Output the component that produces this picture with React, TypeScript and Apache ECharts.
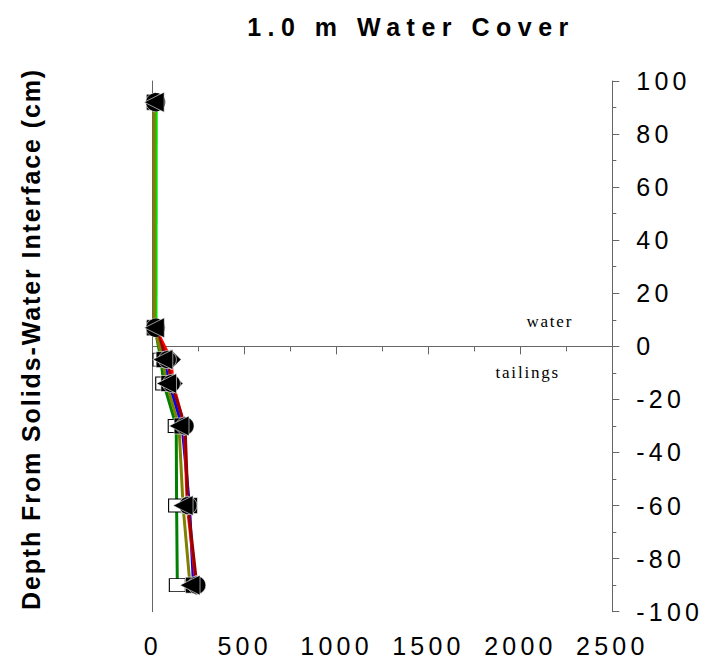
import React, { useEffect, useRef } from "react";
import * as echarts from "echarts";

// Depths (cm) relative to the solids-water interface
const depths = [92, 7, -5, -14, -30, -60, -90];

// Concentration profiles, one per sampling event
const seriesNames = ["Profile A", "Profile B", "Profile C", "Profile D", "Profile E", "Profile F"];
const profileA = [12, 12, 45, 60, 128, 130, 134];
const profileB = [8, 9, 55, 75, 143, 165, 203];
const profileC = [10, 10, 62, 88, 160, 200, 222];
const profileD = [11, 12, 80, 102, 176, 192, 240];
const profileE = [13, 14, 100, 110, 172, 188, 236];
const profileF = [19, 18];

const xTicks = { min: 0, max: 2500, interval: 500 };
const yTicks = { min: -100, max: 100, interval: 20 };

const SANS = "'Liberation Sans', Arial, sans-serif";
const SERIF = "'Liberation Serif', 'Times New Roman', serif";

function toPairs(values: number[]) {
  return values.map((v, i) => [v, depths[i]]);
}

// Spread glyphs of the drawn SVG texts, keyed by their content
function spaceTexts(root: HTMLElement) {
  root.querySelectorAll("text").forEach((t) => {
    const s = (t.textContent || "").trim();
    let ls = 0;
    if (s.includes("Water Cover")) ls = 6.5;
    else if (s.startsWith("Depth")) ls = 1.9;
    else if (/^-?\d+$/.test(s)) ls = 4.2;
    else if (s === "water" || s === "tailings") ls = 1.8;
    (t as SVGTextElement).style.letterSpacing = ls + "px";
  });
}

export default function App() {
  const ref = useRef<HTMLDivElement>(null);

  useEffect(() => {
    if (!ref.current) return;
    document.body.style.margin = "0";
    const chart = echarts.init(ref.current, null, { renderer: "svg" });

    const mk = (
      name: string,
      values: number[],
      color: string,
      symbol: string,
      symbolSize: number | number[],
      itemStyle: any,
      extra: any = {}
    ) => ({
      name,
      type: "line",
      data: toPairs(values),
      lineStyle: { color, width: 3 },
      symbol,
      symbolSize,
      itemStyle,
      z: 3,
      ...extra,
    });

    const black = { color: "#000", borderColor: "#fff", borderWidth: 0.6 };
    const axisColor = "#666";

    chart.setOption({
      animation: false,
      grid: { left: 152.7, right: 100.7, top: 81, bottom: 51.3, containLabel: false },
      xAxis: {
        type: "value",
        min: xTicks.min,
        max: xTicks.max,
        interval: xTicks.interval,
        axisLine: { show: true, lineStyle: { color: axisColor, width: 1 } },
        axisTick: { show: true, inside: false, length: 8, lineStyle: { color: axisColor } },
        minorTick: { show: true, splitNumber: 2, length: 5, lineStyle: { color: axisColor } },
        splitLine: { show: false },
        axisLabel: {
          color: "#000",
          fontFamily: SANS,
          fontSize: 25,
          margin: 22,
          formatter: (v: number) => String(v),
        },
      },
      yAxis: [
        {
          type: "value",
          position: "right",
          min: yTicks.min,
          max: yTicks.max,
          interval: yTicks.interval,
          axisLine: { show: true, onZero: false, lineStyle: { color: axisColor, width: 1 } },
          axisTick: { show: true, inside: false, length: 7, lineStyle: { color: axisColor } },
          minorTick: { show: true, splitNumber: 2, length: 4, lineStyle: { color: axisColor } },
          splitLine: { show: false },
          axisLabel: {
            color: "#000",
            fontFamily: SANS,
            fontSize: 25,
            margin: 24,
            formatter: (v: number) => String(v),
          },
        },
        {
          type: "value",
          position: "left",
          min: yTicks.min,
          max: yTicks.max,
          interval: yTicks.interval,
          axisLine: { show: true, onZero: false, lineStyle: { color: axisColor, width: 1 } },
          axisTick: { show: false },
          axisLabel: { show: false },
          splitLine: { show: false },
        },
      ],
      series: [
        mk(seriesNames[0], profileA, "#008000", "rect", [16, 13], {
          color: "#fff",
          borderColor: "#000",
          borderWidth: 1,
        }, {
          markLine: {
            silent: true,
            symbol: "none",
            label: { show: false },
            lineStyle: { color: axisColor, width: 1, type: "solid" },
            data: [{ yAxis: 0 }],
            z: 1,
          },
        }),
        mk(seriesNames[2], profileC, "#0000ff", "rect", 16, black),
        mk(seriesNames[4], profileE, "#ff0000", "diamond", 20, black),
        mk(seriesNames[3], profileD, "#990000", "circle", 18, black),
        mk(seriesNames[5], profileF, "#00e000", "circle", 17, {
          color: "rgba(255,255,255,0)",
          borderColor: "#000",
          borderWidth: 1.2,
        }),
        mk(seriesNames[1], profileB, "#808000", "triangle", 20, black, { symbolRotate: 90 }),
      ],
    });

    const [wx, wy] = chart.convertToPixel({ xAxisIndex: 0, yAxisIndex: 0 }, [2160, 9.5]);
    const [tx, ty] = chart.convertToPixel({ xAxisIndex: 0, yAxisIndex: 0 }, [2040, -10]);

    chart.setOption({
      graphic: [
        {
          type: "text",
          x: 411,
          y: 27,
          style: {
            text: "1.0 m Water Cover",
            font: `bold 25px ${SANS}`,
            fill: "#000",
            textAlign: "center",
            textVerticalAlign: "middle",
          },
        },
        {
          type: "text",
          x: 31,
          y: 339,
          rotation: Math.PI / 2,
          style: {
            text: "Depth From Solids-Water Interface (cm)",
            font: `bold 25px ${SANS}`,
            fill: "#000",
            textAlign: "center",
            textVerticalAlign: "middle",
          },
        },
        {
          type: "text",
          x: wx,
          y: wy,
          style: {
            text: "water",
            font: `17px ${SERIF}`,
            fill: "#000",
            textAlign: "center",
            textVerticalAlign: "middle",
          },
        },
        {
          type: "text",
          x: tx,
          y: ty,
          style: {
            text: "tailings",
            font: `17px ${SERIF}`,
            fill: "#000",
            textAlign: "center",
            textVerticalAlign: "middle",
          },
        },
      ],
    });

    const el = ref.current;
    const apply = () => spaceTexts(el);
    chart.on("finished", apply);
    apply();
    const timer = window.setTimeout(apply, 50);

    return () => {
      window.clearTimeout(timer);
      chart.dispose();
    };
  }, []);

  return <div ref={ref} style={{ width: 713, height: 663 }} />;
}
